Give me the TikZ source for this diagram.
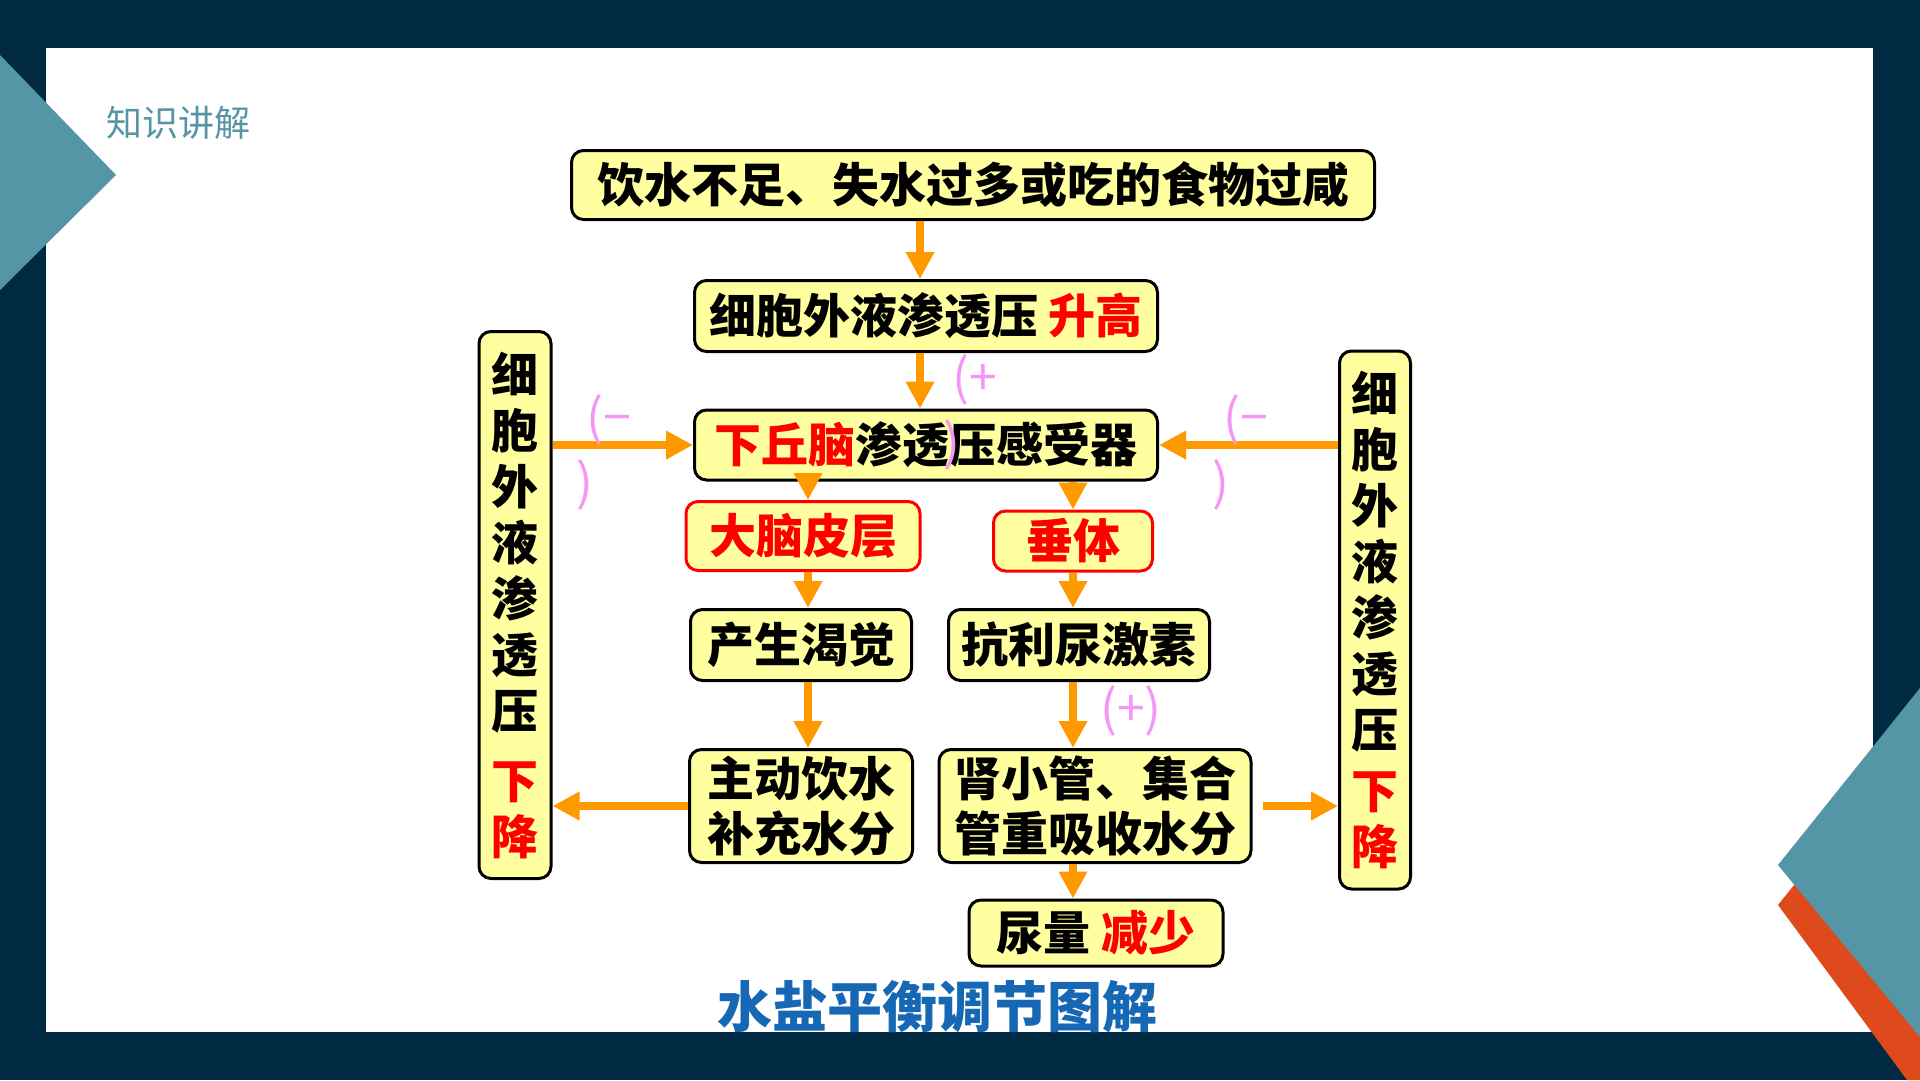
\documentclass[tikz,border=0pt]{standalone}
\usepackage{fontspec}
\usetikzlibrary{arrows.meta,positioning,calc}
\newfontfamily\cjk{Noto Sans CJK SC}
\definecolor{navy}{RGB}{0,41,66}
\definecolor{decoteal}{RGB}{84,149,166}
\definecolor{decored}{RGB}{222,74,28}
\definecolor{boxyellow}{RGB}{255,255,160}
\definecolor{floworange}{RGB}{255,153,0}
\definecolor{signpink}{RGB}{245,150,245}
\definecolor{titleblue}{RGB}{22,104,180}

\begin{document}
\begin{tikzpicture}[x=1pt, y=-1pt,
  box/.style={draw=black, line width=3pt, fill=boxyellow, rounded corners=12pt,
    inner sep=0pt, align=center, font=\cjk\bfseries\fontsize{47}{55}\selectfont},
  redbox/.style={box, draw=red},
  flow/.style={draw=floworange, line width=8pt, -{Triangle[length=27pt, width=27pt]}},
  sign/.style={text=signpink, inner sep=0pt, font=\cjk\fontsize{50}{50}\selectfont}]

  \useasboundingbox (0,0) rectangle (1920,1080);

  % === Slide frame ===
  \fill[navy] (0,0) rectangle (1920,1080);
  \fill[white] (46,48) rectangle (1873,1032);
  \fill[decoteal] (0,55) -- (116,175) -- (0,290) -- cycle;
  \fill[decored] (1778,905) -- (1920,728) -- (1920,1080) -- (1907,1080) -- cycle;
  \fill[decoteal] (1920,688) -- (1778,865) -- (1920,1037) -- cycle;

  % Section label
  \node[text=decoteal, font=\cjk\fontsize{36}{36}\selectfont] (section) at (178,123) {知识讲解};

  % === Boxes ===
  \node[box, minimum width=803pt, minimum height=69pt] (cause) at (973,185)
    {饮水不足、失水过多或吃的食物过咸};
  \node[box, minimum width=463pt, minimum height=71pt] (rise) at (926,316)
    {细胞外液渗透压 \textcolor{red}{升高}};
  \node[box, minimum width=463pt, minimum height=70pt] (sensor) at (926,445)
    {\textcolor{red}{下丘脑}渗透压感受器};
  \node[redbox, minimum width=234pt, minimum height=69pt] (cortex) at (803,536)
    {\textcolor{red}{大脑皮层}};
  \node[redbox, minimum width=159pt, minimum height=60pt] (pituitary) at (1073,541)
    {\textcolor{red}{垂体}};
  \node[box, minimum width=221pt, minimum height=71pt] (thirst) at (801,645)
    {产生渴觉};
  \node[box, minimum width=261pt, minimum height=71pt] (adh) at (1079,645)
    {抗利尿激素};
  \node[box, minimum width=223pt, minimum height=113pt] (drink) at (801,806)
    {主动饮水\\补充水分};
  \node[box, minimum width=312pt, minimum height=113pt] (reabsorb) at (1095,806)
    {肾小管、集合\\管重吸收水分};
  \node[box, minimum width=254pt, minimum height=66pt] (urine) at (1096,933)
    {尿量 \textcolor{red}{减少}};

  % Side boxes (vertical text)
  \node[box, minimum width=72pt, minimum height=547pt, font=\cjk\bfseries\fontsize{47}{56}\selectfont]
    (leftfall) at (515,605)
    {细\\胞\\外\\液\\渗\\透\\压\\[14pt]\textcolor{red}{下}\\\textcolor{red}{降}};
  \node[box, minimum width=71pt, minimum height=538pt, font=\cjk\bfseries\fontsize{47}{56}\selectfont]
    (rightfall) at (1375,620)
    {细\\胞\\外\\液\\渗\\透\\压\\[5pt]\textcolor{red}{下}\\\textcolor{red}{降}};

  % Arrow lanes
  \coordinate (midlane) at ([xshift=-6pt]rise.center);
  \coordinate (leftlane) at ([xshift=5pt]cortex.center);

  % === Arrows ===
  \draw[flow] (cause.south -| midlane) -- (rise.north -| midlane);
  \draw[flow] (rise.south -| midlane) -- (sensor.north -| midlane);
  \draw[flow] (leftfall.east |- sensor) -- (sensor.west);
  \draw[flow] (rightfall.west |- sensor) -- (sensor.east);
  \draw[flow] (sensor.south -| leftlane) -- (cortex.north -| leftlane);
  \draw[flow] (sensor.south -| pituitary) -- (pituitary.north);
  \draw[flow] (cortex.south -| leftlane) -- (thirst.north -| leftlane);
  \draw[flow] (pituitary) -- (adh.north -| pituitary);
  \draw[flow] (thirst.south -| leftlane) -- (drink.north -| leftlane);
  \draw[flow] (adh.south -| pituitary) -- (reabsorb.north -| pituitary);
  \draw[flow] (reabsorb.south -| pituitary) -- (urine.north -| pituitary);
  \draw[flow] (drink.west) -- (leftfall.east |- drink.west);
  \draw[flow, shorten <=10pt] (reabsorb.east) -- (rightfall.west |- reabsorb.east);

  % Effect signs
  \node[sign] (plustop) at (975,380) {(+};
  \node[sign] (plustopend) at (952,445) {)};
  \node[sign] (minusleft) at (609,420) {(−};
  \node[sign] (minusleftend) at (585,485) {)};
  \node[sign] (minusright) at (1246,420) {(−};
  \node[sign] (minusrightend) at (1221,485) {)};
  \node[sign] (plusadh) at (1131,711) {(+)};

  % Title
  \node[text=titleblue, font=\cjk\bfseries\fontsize{55}{55}\selectfont] (title) at (937,1007)
    {水盐平衡调节图解};

\end{tikzpicture}
\end{document}
